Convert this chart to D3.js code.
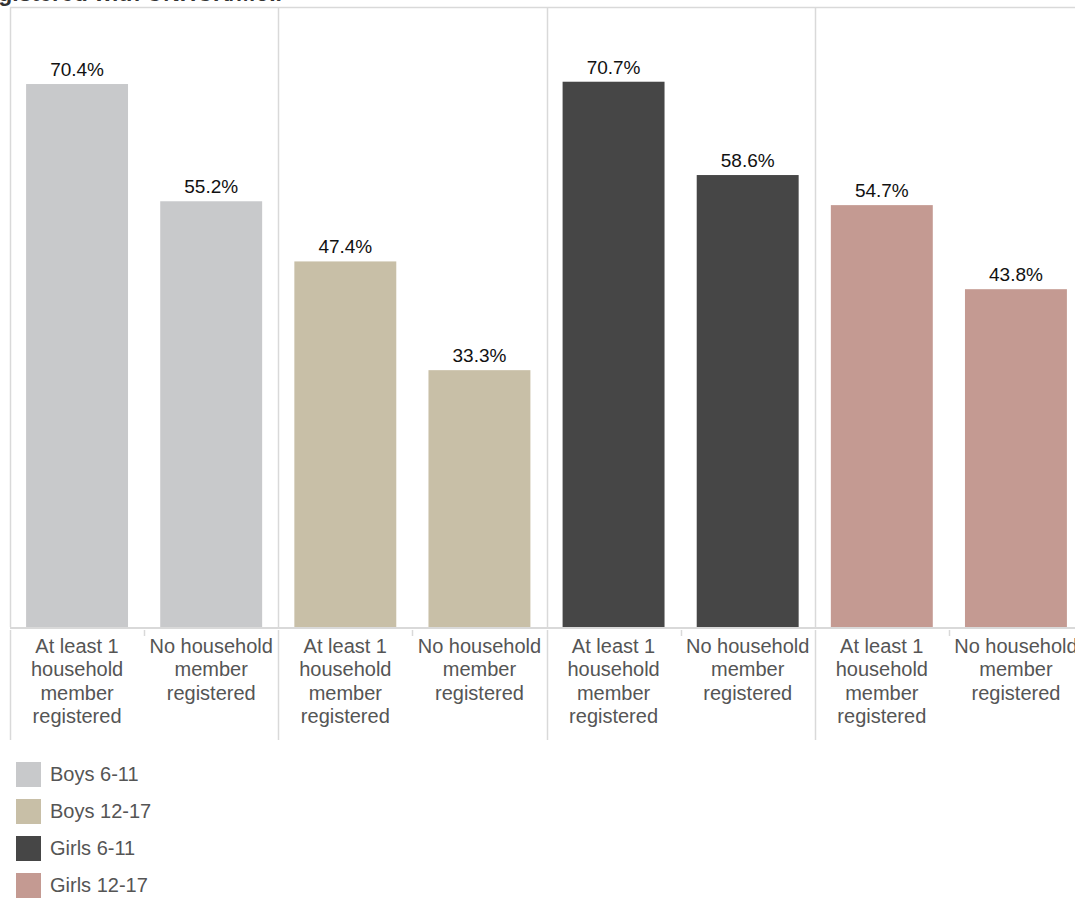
<!DOCTYPE html>
<html>
<head>
<meta charset="utf-8">
<script src="https://cdnjs.cloudflare.com/ajax/libs/d3/7.8.5/d3.min.js"></script>
<style>
  html, body { margin: 0; padding: 0; background: #fff; overflow: hidden; }
  svg { display: block; font-family: "Liberation Sans", Arial, sans-serif; }
</style>
</head>
<body>
<svg id="chart" width="1075" height="898"></svg>
<script>
// Children groups (one panel each) and household registration status
const groups = ["Boys 6-11", "Boys 12-17", "Girls 6-11", "Girls 12-17"];
const categories = ["At least 1 household member registered", "No household member registered"];
const categoryLines = [["At least 1", "household", "member", "registered"], ["No household", "member", "registered"]];
const atLeastOne = [70.4, 47.4, 70.7, 54.7];
const noneRegistered = [55.2, 33.3, 58.6, 43.8];
const colors = ["#c8c9cb", "#c8bfa7", "#464646", "#c49a92"];
const titleText = "registered with UNHCR/MoI.";

const rows = groups.flatMap((g, i) => [
  { group: g, cat: categories[0], value: atLeastOne[i], color: colors[i] },
  { group: g, cat: categories[1], value: noneRegistered[i], color: colors[i] }
]);

const svg = d3.select("#chart");
const gridColor = "#d9d9d9";
const frameTop = 7, baseline = 627, labelBottom = 740;

const x0 = d3.scaleBand().domain(groups).range([10, 1083]).padding(0);
const x1 = d3.scaleBand().domain(categories).range([0, x0.bandwidth()])
  .paddingInner(0.24).paddingOuter(0.12);
const y = d3.scaleLinear().domain([0, 80]).range([baseline, 10]);

// Title (runs off the top edge)
svg.append("text")
  .attr("x", 282).attr("y", 1)
  .attr("text-anchor", "end")
  .attr("font-size", 23).attr("font-weight", "bold")
  .attr("fill", "#333")
  .text(titleText);

// Frame: top rule, panel dividers, baseline
svg.append("line")
  .attr("x1", 10).attr("x2", 1075).attr("y1", frameTop + 0.5).attr("y2", frameTop + 0.5)
  .attr("stroke", gridColor).attr("stroke-width", 1.5);

groups.forEach(g => {
  const xp = Math.round(x0(g)) + 0.5;
  svg.append("line")
    .attr("x1", xp).attr("x2", xp).attr("y1", frameTop).attr("y2", baseline)
    .attr("stroke", gridColor).attr("stroke-width", 1.5);
  svg.append("line")
    .attr("x1", xp).attr("x2", xp).attr("y1", baseline + 3).attr("y2", labelBottom)
    .attr("stroke", gridColor).attr("stroke-width", 1.5);
  // small tick between the two categories
  const mid = Math.round(x0(g) + x0.bandwidth() / 2) + 0.5;
  svg.append("line")
    .attr("x1", mid).attr("x2", mid).attr("y1", baseline + 3).attr("y2", baseline + 9)
    .attr("stroke", gridColor).attr("stroke-width", 1.5);
});

// Bars
const bars = svg.append("g");
bars.selectAll("rect").data(rows).join("rect")
  .attr("x", d => x0(d.group) + x1(d.cat))
  .attr("y", d => y(d.value))
  .attr("width", x1.bandwidth())
  .attr("height", d => y(0) - y(d.value))
  .attr("fill", d => d.color);

// Value labels
bars.selectAll("text").data(rows).join("text")
  .attr("x", d => x0(d.group) + x1(d.cat) + x1.bandwidth() / 2)
  .attr("y", d => y(d.value) - 8)
  .attr("text-anchor", "middle")
  .attr("font-size", 19)
  .attr("fill", "#111")
  .text(d => d.value.toFixed(1) + "%");

svg.append("line")
  .attr("x1", 10).attr("x2", 1075).attr("y1", baseline + 1).attr("y2", baseline + 1)
  .attr("stroke", gridColor).attr("stroke-width", 2);

// Category labels under each bar
const labels = svg.append("g");
groups.forEach(g => {
  categories.forEach((c, ci) => {
    const cx = x0(g) + x1(c) + x1.bandwidth() / 2;
    const t = labels.append("text")
      .attr("x", cx).attr("y", 653)
      .attr("text-anchor", "middle")
      .attr("font-size", 20)
      .attr("fill", "#555");
    categoryLines[ci].forEach((line, li) => {
      t.append("tspan").attr("x", cx).attr("y", 653 + li * 23.3).text(line);
    });
  });
});

// Legend
const legend = svg.append("g");
groups.forEach((g, i) => {
  const ly = 762 + i * 37;
  legend.append("rect")
    .attr("x", 16).attr("y", ly).attr("width", 25).attr("height", 25)
    .attr("fill", colors[i]);
  legend.append("text")
    .attr("x", 50).attr("y", ly + 19)
    .attr("font-size", 20).attr("fill", "#555")
    .text(g);
});
</script>
</body>
</html>
